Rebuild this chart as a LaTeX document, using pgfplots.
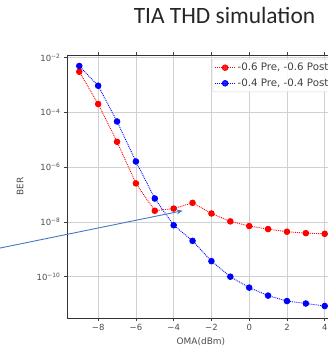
\documentclass[border=0pt]{standalone}
\usepackage{fontspec}
\setmainfont{DejaVu Sans}
\newfontfamily\titlefont{Carlito}
\usepackage{pgfplots}
\pgfplotsset{compat=1.18}
\usetikzlibrary{arrows.meta}
\definecolor{arrowblue}{HTML}{4A76C0}
\begin{document}
\begin{tikzpicture}
\begin{axis}[
  scale only axis, width=270bp, height=263bp,
  at={(0,0)}, anchor=south west,
  clip=false,
  xmin=-9.65, xmax=4.65,
  ymode=log, ymin=3.1e-12, ymax=1.26e-2,
  xtick={-8,-6,-4,-2,0,2,4},
  xticklabels={−8,−6,−4,−2,0,2,4},
  ytick={1e-2,1e-4,1e-6,1e-8,1e-10},
  yticklabels={10\textsuperscript{−2},10\textsuperscript{−4},10\textsuperscript{−6},10\textsuperscript{−8},10\textsuperscript{−10}},
  xminorticks=false, yminorticks=false,
  tick align=outside, major tick length=3bp,
  tick style={black!75, line width=0.6bp},
  tick label style={font=\fontsize{8.5}{9}\selectfont, text=black!70},
  axis line style={black!80, line width=0.8bp},
  grid=major,
  major grid style={black!18, line width=0.6bp},
  xlabel={OMA(dBm)}, ylabel={BER},
  label style={font=\fontsize{9}{10}\selectfont, text=black!70},
  xlabel style={at={(axis description cs:0.496,-0.091)}, anchor=center},
  ylabel style={at={(axis description cs:-0.174,0.5)}, anchor=center, rotate=0},
  legend style={at={(axis description cs:0.537,0.985)}, anchor=north west,
    font=\fontsize{10.3}{12}\selectfont, text=black!75, draw=black!15,
    fill=white, fill opacity=0.85, text opacity=1, rounded corners=1.5bp,
    row sep=3.5bp, inner sep=2.5bp, nodes={inner xsep=2bp, inner ysep=1.5bp}},
  legend cell align=left,
  legend image code/.code={\draw[mark repeat=2,mark phase=2,#1] plot coordinates {(0bp,0bp) (10bp,0bp) (20bp,0bp)};},
]
\addplot[red, densely dotted, line width=0.9bp, mark=*, mark size=2.8bp, mark options={solid, fill=red, draw=red}]
coordinates {
(-9,3.09e-3) (-8,2.04e-4) (-7,8.5e-6) (-6,2.57e-7) (-5,2.57e-8) (-4,3.09e-8) (-3,5.0e-8)
(-2,2.04e-8) (-1,1.05e-8) (0,7.1e-9) (1,5.5e-9) (2,4.4e-9) (3,3.9e-9) (4,3.7e-9)
};
\addlegendentry{-0.6 Pre, -0.6 Post}
\addplot[blue, densely dotted, line width=0.9bp, mark=*, mark size=2.8bp, mark options={solid, fill=blue, draw=blue}]
coordinates {
(-9,5.0e-3) (-8,9.5e-4) (-7,4.7e-5) (-6,1.62e-6) (-5,7.2e-8) (-4,7.6e-9) (-3,2.04e-9)
(-2,3.7e-10) (-1,1.0e-10) (0,4.0e-11) (1,2.04e-11) (2,1.29e-11) (3,1.05e-11) (4,8.5e-12)
};
\addlegendentry{-0.4 Pre, -0.4 Post}
\draw[arrowblue, line width=0.9bp, -{Stealth[length=6bp,width=5bp]}] (axis cs:-13.5,1.01e-9) -- (axis cs:-3.53,2.57e-8);
\end{axis}
\node[font=\titlefont\fontsize{23.5}{25}\selectfont, text=black!85] at (157.5bp,303bp) {TIA THD simulation};
\pgfresetboundingbox
\useasboundingbox (-67bp,-30bp) rectangle (261bp,318bp);
\end{tikzpicture}
\end{document}
